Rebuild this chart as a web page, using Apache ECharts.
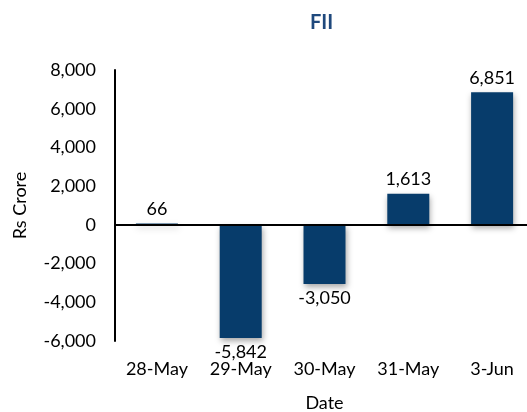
<!DOCTYPE html>
<html>
<head>
<meta charset="utf-8">
<script src="https://cdn.jsdelivr.net/npm/echarts@6/dist/echarts.min.js"></script>
<style>
  html, body { margin: 0; padding: 0; background: #fff; }
  #chart { width: 527px; height: 412px; }
</style>
</head>
<body>
<div id="chart"></div>
<script>
// data
var dates = ['28-May', '29-May', '30-May', '31-May', '3-Jun'];
var fiiValues = [66, -5842, -3050, 1613, 6851];

var FONT = 'Lato';

function fmt(v) {
    // thousands separator, keeps the minus sign
    return String(v).replace(/\B(?=(\d{3})+(?!\d))/g, ',');
}

var chart = echarts.init(document.getElementById('chart'));

var option = {
    backgroundColor: '#fff',
    animation: false,
    title: {
        text: 'FII',
        left: 305,
        top: 8,
        textStyle: { color: '#1F497D', fontSize: 20, fontWeight: 'bold', fontFamily: FONT }
    },
    // plot runs a bit past the right edge, like the source
    grid: { left: 115, top: 70, width: 419, bottom: 71, outerBoundsMode: 'none' },
    xAxis: {
        type: 'category',
        data: dates,
        name: 'Date',
        nameLocation: 'middle',
        nameGap: 53,
        nameTextStyle: { color: '#000', fontSize: 18, fontFamily: FONT },
        axisLine: { show: false, onZero: false },
        axisTick: { show: false },
        axisLabel: { color: '#000', fontSize: 18, fontFamily: FONT, margin: 19 }
    },
    yAxis: {
        type: 'value',
        min: -6000,
        max: 8000,
        interval: 2000,
        name: 'Rs Crore',
        nameLocation: 'middle',
        nameGap: 86,
        nameTextStyle: { color: '#000', fontSize: 18, fontFamily: FONT },
        axisLine: { show: true, lineStyle: { color: '#000', width: 2 } },
        axisTick: { show: false },
        splitLine: { show: false },
        axisLabel: {
            color: '#000', fontSize: 18, fontFamily: FONT, margin: 19,
            formatter: function(v) { return fmt(v); }
        }
    },
    series: [{
        name: 'FII',
        type: 'bar',
        data: fiiValues,
        barWidth: 42,
        itemStyle: {
            color: '#073C6B',
            shadowColor: 'rgba(0,0,0,0.35)',
            shadowBlur: 6,
            shadowOffsetX: 1,
            shadowOffsetY: 3
        },
        label: {
            show: true,
            position: 'outside',
            distance: 5,
            color: '#000',
            fontSize: 18,
            fontFamily: FONT,
            formatter: function(p) { return fmt(p.value); }
        },
        // zero line across the plot
        markLine: {
            silent: true,
            symbol: 'none',
            label: { show: false },
            lineStyle: { color: '#000', width: 2, type: 'solid' },
            data: [{ yAxis: 0 }]
        }
    }]
};

chart.setOption(option);
</script>
</body>
</html>
